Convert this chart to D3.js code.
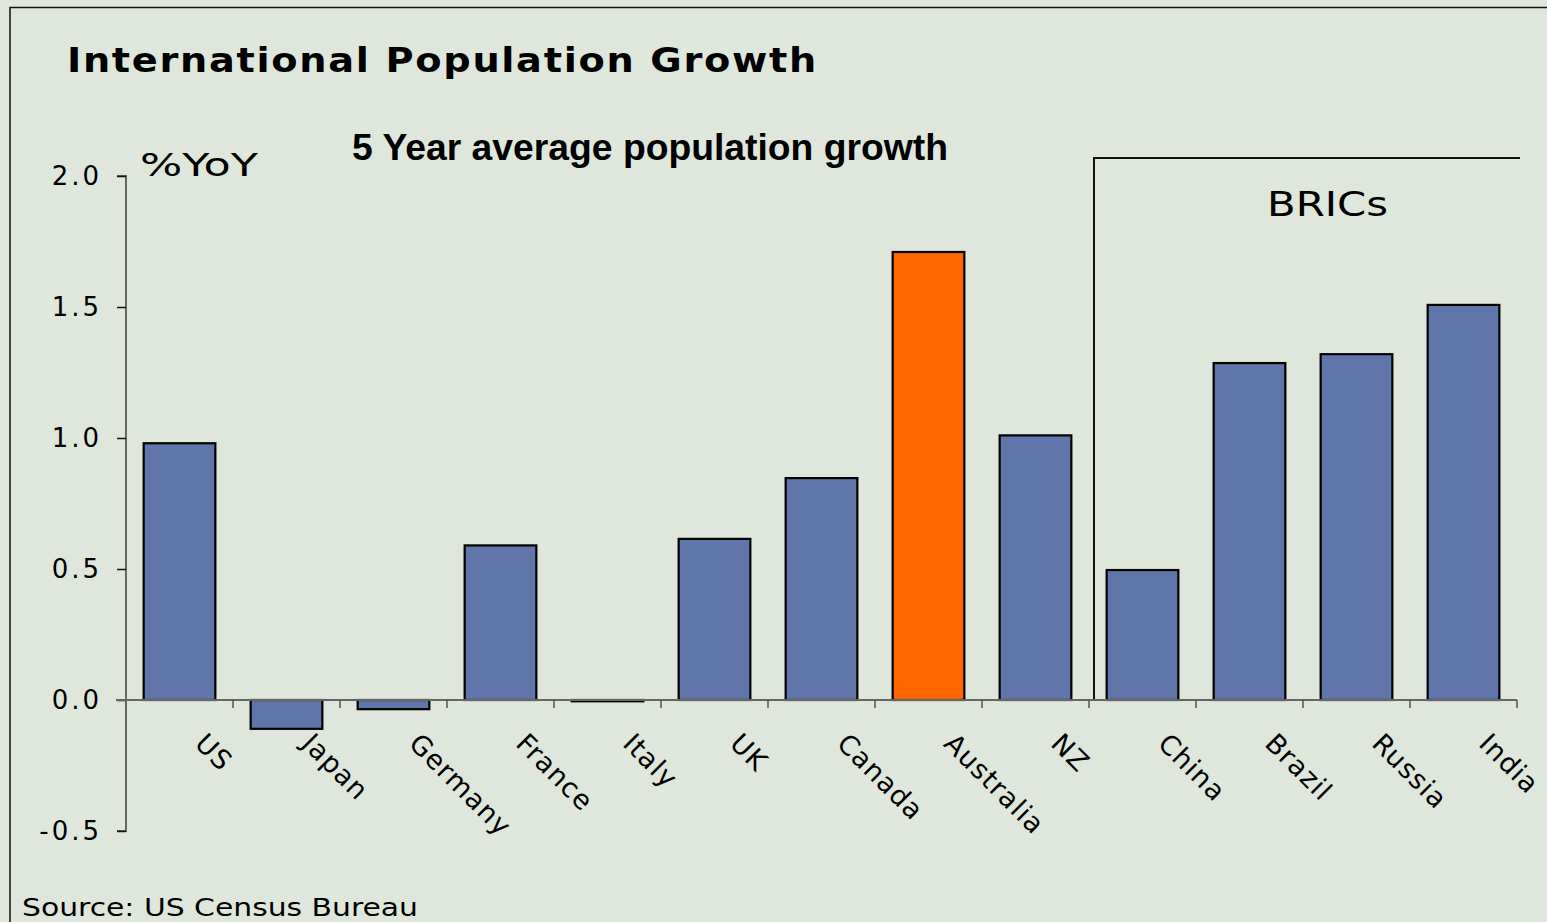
<!DOCTYPE html>
<html><head><meta charset="utf-8">
<script src="https://cdn.jsdelivr.net/npm/d3@7"></script>
<style>
html,body{margin:0;padding:0;background:#dfe7dd;}
svg{display:block;}
</style></head>
<body>
<svg id="chart" width="1547" height="922"></svg>
<script>
const categories = ["US","Japan","Germany","France","Italy","UK","Canada","Australia","NZ","China","Brazil","Russia","India"];
const values = [0.98,-0.11,-0.035,0.59,-0.005,0.615,0.847,1.71,1.01,0.496,1.286,1.32,1.508];
const highlight = ["Australia"];
const yTicks = [-0.5,0.0,0.5,1.0,1.5,2.0];
const yTickLabels = ["-0.5","0.0","0.5","1.0","1.5","2.0"];
const bricsGroup = ["China","Brazil","Russia","India"];

const svg = d3.select("#chart");
const W = 1547, H = 922;
const FONT = "DejaVu Sans, Verdana, sans-serif";
svg.append("rect").attr("x",0).attr("y",0).attr("width",W).attr("height",H).attr("fill","#dfe7dd");
svg.append("rect").attr("x",10).attr("y",7.5).attr("width",1560).attr("height",940)
  .attr("fill","none").attr("stroke","#111").attr("stroke-width",1.5);

const x = d3.scaleBand().domain(categories).range([126,1517]).paddingInner(0.33).paddingOuter(0.165);
const y = d3.scaleLinear().domain([-0.5,2.0]).range([831,176]);

// titles
svg.append("text").attr("x",67).attr("y",72).text("International Population Growth")
  .attr("font-family",FONT).attr("font-weight","bold")
  .attr("font-size",34).attr("letter-spacing",1.5).attr("textLength",751).attr("lengthAdjust","spacingAndGlyphs").attr("fill","#000");
svg.append("text").attr("x",352).attr("y",160).text("5 Year average population growth")
  .attr("font-family","Liberation Sans, Arial, sans-serif").attr("font-weight","bold")
  .attr("font-size",37).attr("textLength",596).attr("lengthAdjust","spacingAndGlyphs").attr("fill","#000");
svg.append("text").attr("x",140).attr("y",176).text("%YoY")
  .attr("font-family",FONT).attr("font-size",32).attr("textLength",118).attr("lengthAdjust","spacingAndGlyphs").attr("fill","#000");

// BRICs bracket
const bx0 = 1094, bx1 = 1520;
svg.append("path").attr("d",`M${bx0},${y(0)}V158H${bx1}`).attr("fill","none").attr("stroke","#111").attr("stroke-width",2);
svg.append("text").attr("x",1267).attr("y",216).text("BRICs")
  .attr("font-family",FONT).attr("font-size",33).attr("textLength",121).attr("lengthAdjust","spacingAndGlyphs").attr("fill","#000");

// y axis
const yAxis = d3.axisLeft(y).tickValues(yTicks).tickSize(9).tickPadding(15);
const gy = svg.append("g").attr("transform","translate(126,0)").call(yAxis);
gy.select(".domain").attr("stroke","#666").attr("stroke-width",2).attr("d",`M-9,${y(2)}H0V${y(-0.5)}H-9`);
gy.selectAll(".tick line").attr("stroke","#111").attr("stroke-width",1.5);
gy.selectAll(".tick text").attr("font-family",FONT).attr("font-size",26).attr("fill","#000")
  .attr("letter-spacing",3).text((d,i) => yTickLabels[i]);

// bars
svg.append("g").selectAll("rect").data(categories).join("rect")
  .attr("x", d => x(d))
  .attr("width", x.bandwidth())
  .attr("y", (d,i) => y(Math.max(0, values[i])))
  .attr("height", (d,i) => Math.max(1, Math.abs(y(values[i]) - y(0))))
  .attr("fill", d => highlight.includes(d) ? "#ff6600" : "#6075aa")
  .attr("stroke","#000").attr("stroke-width",2.2);

// x axis
const step = x.step();
const tickPos = d3.range(categories.length+1).map(i => 126 + i*step);
const gx = svg.append("g");
gx.append("line").attr("x1",116).attr("x2",1517).attr("y1",y(0)).attr("y2",y(0)).attr("stroke","#666").attr("stroke-width",2);
gx.selectAll("line.tk").data(tickPos.slice(1)).join("line").attr("class","tk")
  .attr("x1",d=>d).attr("x2",d=>d).attr("y1",y(0)).attr("y2",y(0)+8).attr("stroke","#555").attr("stroke-width",1.5);

// x labels
svg.append("g").selectAll("text").data(categories).join("text")
  .attr("transform", d => `translate(${x(d)+x.bandwidth()/2+14},${y(0)+45}) rotate(45)`)
  .attr("text-anchor","start")
  .attr("font-family",FONT).attr("font-size",27).attr("letter-spacing",1).attr("fill","#000")
  .text(d => d);

svg.append("text").attr("x",22).attr("y",916).text("Source:  US Census Bureau")
  .attr("font-family",FONT).attr("font-size",24).attr("textLength",396).attr("lengthAdjust","spacingAndGlyphs").attr("fill","#000");
</script>
</body></html>
